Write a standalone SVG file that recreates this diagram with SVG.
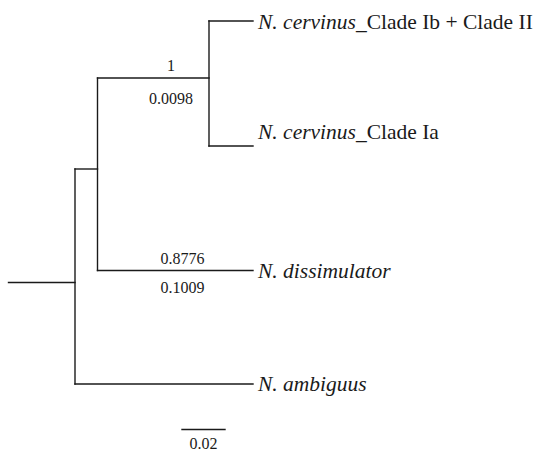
<svg xmlns="http://www.w3.org/2000/svg" width="539" height="452" viewBox="0 0 539 452">
<style>
.br{stroke:#1a1a1a;stroke-width:1.4;fill:none;stroke-linecap:square}
.lab{font-family:"Liberation Serif","Times New Roman",serif;font-size:21.5px;fill:#1a1a1a}
.it{font-style:italic}
.num{font-family:"Liberation Serif","Times New Roman",serif;font-size:16px;fill:#1a1a1a;text-anchor:middle}
</style>
<rect width="539" height="452" fill="#ffffff"/>
<g id="connectors">
<path class="br" d="M8.5,282.5 H75"/>
<path class="br" d="M75,169 V384"/>
<path class="br" d="M75,169 H97.5"/>
<path class="br" d="M75,384 H253"/>
<path class="br" d="M97.5,78 V270.5"/>
<path class="br" d="M97.5,270.5 H253"/>
<path class="br" d="M97.5,78 H209"/>
<path class="br" d="M209,21 V146"/>
<path class="br" d="M209,21 H253"/>
<path class="br" d="M209,146 H253"/>
</g>
<g id="node-clade-ib-ii"><text class="lab" x="258" y="29"><tspan class="it">N. cervinus</tspan>_Clade Ib + Clade II</text></g>
<g id="node-clade-ia"><text class="lab" x="258" y="139"><tspan class="it">N. cervinus</tspan>_Clade Ia</text></g>
<g id="node-dissimulator"><text class="lab it" x="258" y="278">N. dissimulator</text></g>
<g id="node-ambiguus"><text class="lab it" x="258" y="391">N. ambiguus</text></g>
<g id="support-labels">
<text class="num" x="171" y="71">1</text>
<text class="num" x="171" y="103.5">0.0098</text>
<text class="num" x="182.5" y="263.5">0.8776</text>
<text class="num" x="182.5" y="292.5">0.1009</text>
</g>
<g id="scale-bar">
<path class="br" d="M182,429.5 H225"/>
<text class="num" x="203.5" y="448.5">0.02</text>
</g>
</svg>
